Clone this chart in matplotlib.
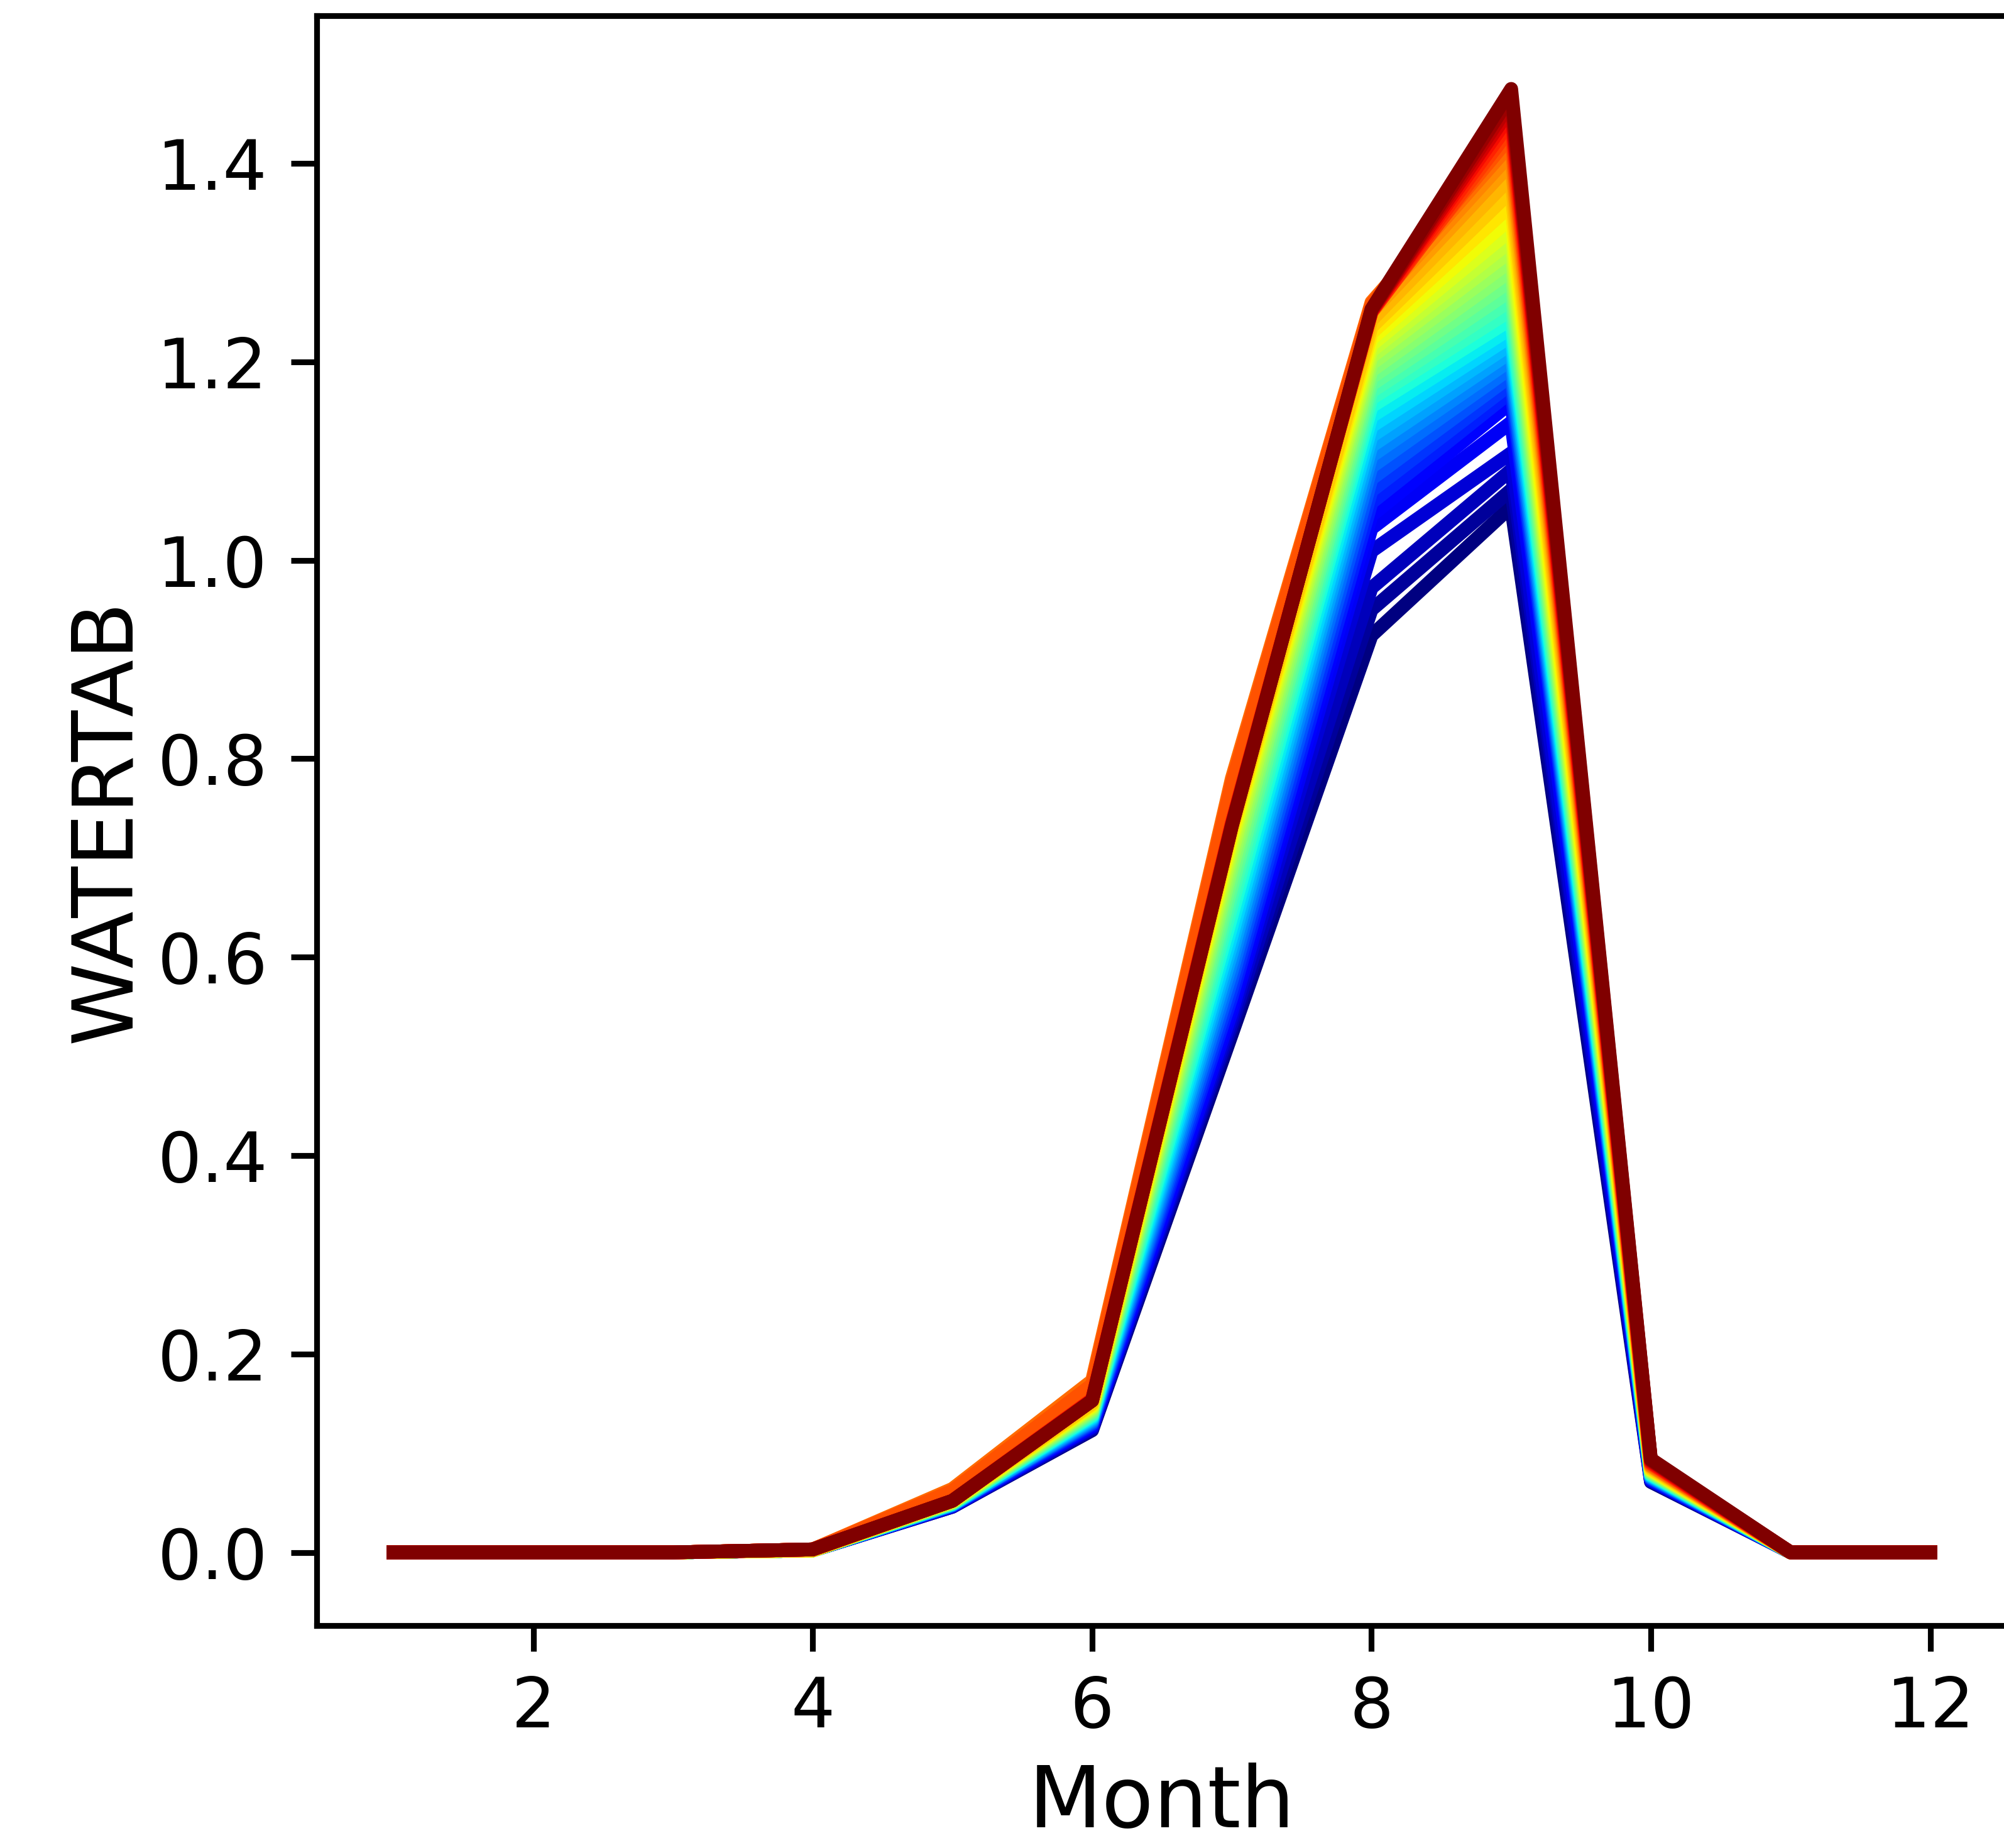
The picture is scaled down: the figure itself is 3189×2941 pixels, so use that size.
import numpy as np
import matplotlib
matplotlib.use("Agg")
import matplotlib.pyplot as plt

# months on the x axis
months = [1, 2, 3, 4, 5, 6, 7, 8, 9, 10, 11, 12]

# one value per run for each month (runs ordered blue -> dark red)
N_RUNS = 40

jan = [0.0] * N_RUNS
feb = [0.0] * N_RUNS
mar = [0.0] * N_RUNS
apr = [0.002] * 28 + [0.003] * 12

may = [0.046, 0.046, 0.046, 0.047, 0.047, 0.047, 0.047, 0.048, 0.048, 0.048,
       0.048, 0.048, 0.049, 0.049, 0.049, 0.049, 0.050, 0.050, 0.050, 0.050,
       0.050, 0.051, 0.051, 0.051, 0.051, 0.052, 0.052, 0.052, 0.058, 0.060,
       0.062, 0.064, 0.062, 0.052, 0.052, 0.052, 0.052, 0.052, 0.052, 0.052]

jun = [0.123, 0.124, 0.125, 0.126, 0.127, 0.128, 0.129, 0.130, 0.131, 0.132,
       0.133, 0.134, 0.135, 0.136, 0.137, 0.138, 0.139, 0.140, 0.141, 0.142,
       0.143, 0.144, 0.145, 0.146, 0.147, 0.148, 0.149, 0.150, 0.162, 0.167,
       0.170, 0.173, 0.169, 0.154, 0.154, 0.154, 0.153, 0.153, 0.153, 0.153]

jul = [0.522, 0.528, 0.533, 0.539, 0.545, 0.552, 0.560, 0.568, 0.577, 0.586,
       0.595, 0.604, 0.613, 0.622, 0.632, 0.642, 0.652, 0.662, 0.671, 0.680,
       0.689, 0.697, 0.705, 0.712, 0.718, 0.723, 0.727, 0.730, 0.760, 0.770,
       0.777, 0.780, 0.775, 0.735, 0.735, 0.734, 0.733, 0.733, 0.732, 0.732]

aug = [0.924, 0.950, 0.972, 1.009, 1.032, 1.045, 1.058, 1.070, 1.082, 1.094,
       1.105, 1.115, 1.125, 1.135, 1.145, 1.155, 1.163, 1.170, 1.177, 1.184,
       1.191, 1.198, 1.205, 1.211, 1.217, 1.223, 1.229, 1.235, 1.242, 1.250,
       1.256, 1.260, 1.258, 1.250, 1.250, 1.251, 1.251, 1.252, 1.252, 1.253]

sep = [1.054, 1.071, 1.091, 1.108, 1.139, 1.159, 1.170, 1.178, 1.186, 1.194,
       1.202, 1.210, 1.218, 1.226, 1.234, 1.243, 1.252, 1.262, 1.272, 1.282,
       1.292, 1.302, 1.312, 1.322, 1.333, 1.345, 1.358, 1.372, 1.386, 1.400,
       1.410, 1.420, 1.428, 1.436, 1.443, 1.450, 1.456, 1.462, 1.468, 1.475]

oct_ = [0.071, 0.072, 0.072, 0.073, 0.073, 0.074, 0.074, 0.075, 0.075, 0.076,
        0.076, 0.077, 0.077, 0.078, 0.078, 0.079, 0.079, 0.080, 0.080, 0.081,
        0.081, 0.082, 0.082, 0.083, 0.083, 0.084, 0.084, 0.085, 0.086, 0.087,
        0.087, 0.088, 0.089, 0.090, 0.090, 0.091, 0.092, 0.093, 0.093, 0.094]

nov = [0.0] * N_RUNS
dec = [0.0] * N_RUNS

# rows = months, columns = runs
table = np.array([jan, feb, mar, apr, may, jun, jul, aug, sep, oct_, nov, dec])

W, H, DPI = 3189, 2941, 750
fig = plt.figure(figsize=(W / DPI, H / DPI), dpi=DPI)
ax = fig.add_axes([504 / W, 354 / H, (3194 - 504) / W, (2587 - 25) / H])

colors = plt.cm.jet(np.linspace(0, 1, N_RUNS))
for k in range(N_RUNS):
    ax.plot(months, table[:, k], color=colors[k], linewidth=2.1)

ax.set_xlim(0.45, 12.55)
ax.set_xlabel("Month", fontsize=13, labelpad=3.2)
ax.set_ylabel("WATERTAB", fontsize=12.8, labelpad=1.5)
ax.tick_params(labelsize=10.6, length=3.9, width=0.88, pad=3.6)
for sp in ax.spines.values():
    sp.set_linewidth(0.88)

fig.savefig("out.png", dpi=DPI)
